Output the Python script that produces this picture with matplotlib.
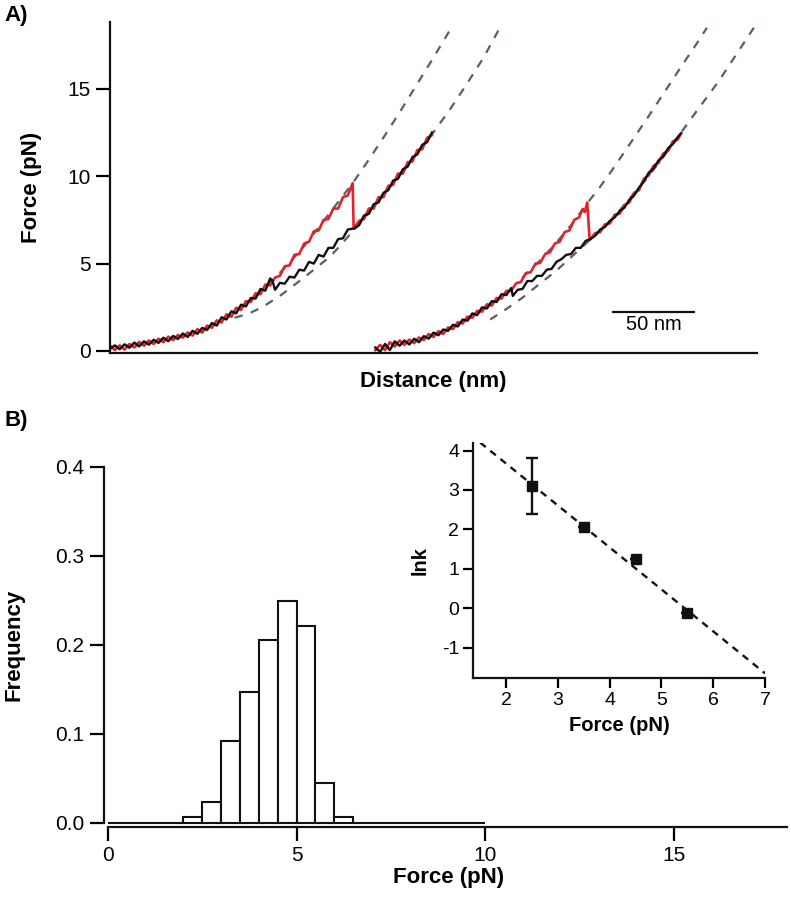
#!/usr/bin/env python3
"""
Force-extension traces (A) and rupture force histogram with lnk inset (B).
"""

import numpy as np
import matplotlib
matplotlib.use("Agg")
import matplotlib.pyplot as plt

plt.rcParams['font.family'] = ['Liberation Sans', 'DejaVu Sans']
plt.rcParams['axes.unicode_minus'] = False

# ---- Panel A: pulling traces (distance in nm, force in pN) ----
# first molecule, stretching (red) before rupture
red1_x = [0, 3, 6, 9, 12, 15, 18, 21, 24, 27, 30, 33, 36, 39, 42, 45, 48, 51, 54, 57,
          60, 63, 66, 69, 72, 75, 78, 81, 84, 87, 90, 93, 96, 99, 102, 105, 108, 111,
          114, 117, 120, 123, 126, 129, 132, 135, 138, 141, 144, 147, 150, 150.6,
          154, 157, 160, 163, 166, 169, 172, 175, 178, 181, 184, 187, 190, 193, 196, 199]
red1_y = [0.3, 0.05, 0.32, 0.08, 0.4, 0.2, 0.52, 0.3, 0.6, 0.4, 0.7, 0.5, 0.82,
          0.62, 0.92, 0.76, 1.06, 0.88, 1.25, 1.05, 1.45, 1.33, 1.75, 1.63, 2.1, 1.95, 2.47,
          2.35, 2.85, 2.8, 3.3, 3.25, 3.8, 3.75, 4.2, 4.3, 4.85, 4.9, 5.5, 5.55, 6.15,
          6.25, 6.85, 6.9, 7.5, 7.55, 8.15, 8.15, 8.8, 8.9, 9.6, 7.0,
          7.45, 7.55, 8.15, 8.15, 8.8, 8.8, 9.45, 9.5, 10.15, 10.15, 10.8, 10.85, 11.5,
          11.55, 12.2, 12.35]
# first molecule, relaxation (black)
blk1_x = [0, 3, 6, 9, 12, 15, 18, 21, 24, 27, 30, 33, 36, 39, 42, 45, 48, 51, 54, 57,
          60, 63, 66, 69, 72, 75, 78, 81, 84, 87, 90, 93, 96, 99, 100.5, 102, 105, 108,
          111, 114, 117, 120, 123, 126, 129, 132, 135, 138, 141, 144, 147, 150, 151,
          154, 157, 160, 163, 166, 169, 172, 175, 178, 181, 184, 187, 190, 193, 196, 199]
blk1_y = [0.12, 0.32, 0.1, 0.38, 0.18, 0.48, 0.26, 0.55, 0.36, 0.64, 0.46, 0.76, 0.56, 0.86,
          0.68, 1.0, 0.8, 1.15, 0.98, 1.32, 1.2, 1.6, 1.45, 1.93, 1.8, 2.27, 2.15, 2.65,
          2.55, 3.03, 3.0, 3.55, 3.45, 4.15, 4.0, 3.5, 3.9, 3.85, 4.25, 4.2, 4.65, 4.6,
          5.1, 5.0, 5.5, 5.4, 5.9, 5.9, 6.4, 6.45, 6.95, 7.0, 7.0,
          7.2, 7.75, 7.85, 8.4, 8.5, 9.05, 9.2, 9.75, 9.85, 10.4, 10.55, 11.1, 11.25,
          11.8, 11.95, 12.5]
# second molecule
red2_x = [164, 167, 170, 173, 176, 179, 182, 185, 188, 191, 194, 197, 200, 203, 206,
          209, 212, 215, 218, 221, 224, 227, 230, 233, 236, 239, 242, 245, 248, 251,
          254, 257, 260, 263, 266, 269, 272, 275, 278, 281, 284, 287, 290, 292, 293.5,
          295, 296.5, 300, 303, 306, 309, 312, 315, 318, 321, 324, 327, 330, 333, 336,
          339, 342, 345, 348, 351, 353]
red2_y = [0.05, 0.35, 0.05, 0.5, 0.25, 0.6, 0.35, 0.65, 0.45, 0.77, 0.63, 0.97, 0.8, 1.13,
          0.97, 1.35, 1.25, 1.65, 1.57, 1.97, 1.9, 2.3, 2.25, 2.67, 2.6, 3.03, 3.0, 3.43,
          3.45, 3.87, 3.95, 4.45, 4.5, 5.0, 5.05, 5.55, 5.65, 6.15, 6.25, 6.8, 6.9, 7.5,
          7.65, 8.1, 7.95, 8.5, 6.35, 6.75, 6.8, 7.25, 7.3, 7.8, 7.85, 8.35, 8.5, 9.05,
          9.2, 9.85, 10.05, 10.6, 10.75, 11.3, 11.45, 12.0, 12.1, 12.45]
blk2_x = [164, 167, 170, 173, 176, 179, 182, 185, 188, 191, 194, 197, 200, 203, 206,
          209, 212, 215, 218, 221, 224, 227, 230, 233, 236, 239, 242, 245, 248, 249,
          252, 255, 258, 261, 264, 267, 270, 273, 276, 279, 282, 285, 288, 291, 294,
          297, 300, 303, 306, 309, 312, 315, 318, 321, 324, 327, 330, 333, 336, 339,
          342, 345, 348, 351, 353]
blk2_y = [0.2, -0.05, 0.4, 0.05, 0.55, 0.3, 0.6, 0.37, 0.7, 0.5, 0.85, 0.7, 1.05, 0.9,
          1.23, 1.15, 1.5, 1.4, 1.8, 1.73, 2.15, 2.05, 2.5, 2.43, 2.85, 2.8, 3.25, 3.2,
          3.6, 3.15, 3.5, 3.55, 4.0, 4.0, 4.3, 4.3, 4.65, 4.7, 5.1, 5.25, 5.5, 5.55,
          5.9, 5.9, 6.3, 6.4, 6.6, 6.95, 7.1, 7.45, 7.65, 8.0, 8.2, 8.65, 8.9, 9.35,
          9.7, 10.2, 10.45, 10.9, 11.15, 11.6, 11.85, 12.25, 12.45]

# worm-like chain fits (dashed): before / after unfolding for each molecule
fit1a_x = [90, 100, 110, 120, 130, 140, 150, 160, 170, 180, 190, 200, 211]
fit1a_y = [3.1, 4.0, 4.95, 6.0, 7.2, 8.4, 9.6, 10.95, 12.35, 13.8, 15.3, 16.8, 18.5]
fit1b_x = [77, 86, 94, 105, 115, 126, 136, 143, 150, 158, 165, 173, 181, 190, 199, 210,
           220, 231, 241]
fit1b_y = [1.9, 2.15, 2.5, 3.15, 3.85, 4.65, 5.4, 6.1, 6.85, 7.7, 8.5, 9.4, 10.3, 11.35,
           12.4, 13.8, 15.2, 16.8, 18.5]
fit2a_x = [255, 265, 275, 285, 295, 303, 310, 321, 332, 343, 354, 362, 369]
fit2a_y = [4.2, 5.1, 6.1, 7.2, 8.45, 9.4, 10.3, 11.8, 13.3, 14.85, 16.4, 17.5, 18.5]
fit2b_x = [235, 245, 255, 265, 276, 286, 296, 305, 311, 321, 332, 342, 353, 364, 376,
           387, 398]
fit2b_y = [1.8, 2.4, 3.05, 3.8, 4.6, 5.45, 6.3, 7.05, 7.6, 8.7, 9.9, 11.1, 12.5, 13.9,
           15.4, 16.95, 18.5]

scale_bar_nm = 50

# ---- Panel B: rupture force histogram ----
bin_left = np.arange(0, 10, 0.5)
frequency = [0, 0, 0, 0, 0.006, 0.023, 0.092, 0.147, 0.206, 0.249, 0.221, 0.045, 0.006,
             0, 0, 0, 0, 0, 0, 0]

# inset: lnk versus force
inset_force = [2.5, 3.5, 4.5, 5.5]
inset_lnk = [3.1, 2.05, 1.25, -0.12]
inset_err = [0.7, 0.0, 0.0, 0.0]
fit_force = [1.5, 7.0]
fit_lnk = [4.2, -1.65]

RED = '#e3232c'
BLACK = '#111111'
FITCOL = '#52636a'


def style_axes(ax, lw=1.6):
    for side in ['top', 'right']:
        ax.spines[side].set_visible(False)
    for side in ['left', 'bottom']:
        ax.spines[side].set_linewidth(lw)
        ax.spines[side].set_color(BLACK)


def plot_traces(fig):
    ax = fig.add_axes([0.1391, 0.6068, 0.8180, 0.3687])
    style_axes(ax)
    dash = dict(color=FITCOL, lw=1.6, dashes=(3.8, 3.8), zorder=1)
    for fx, fy in [(fit1a_x, fit1a_y), (fit1b_x, fit1b_y), (fit2a_x, fit2a_y), (fit2b_x, fit2b_y)]:
        ax.plot(fx, fy, **dash)
    ax.plot(red1_x, red1_y, color=RED, lw=1.9, zorder=2)
    ax.plot(red2_x, red2_y, color=RED, lw=1.9, zorder=2)
    ax.plot(blk1_x, blk1_y, color=BLACK, lw=1.7, zorder=3)
    ax.plot(blk2_x, blk2_y, color=BLACK, lw=1.7, zorder=3)

    # 50 nm scale bar
    ax.plot([311, 311 + scale_bar_nm], [2.25, 2.25], color=BLACK, lw=1.6, clip_on=False)
    ax.text(311 + scale_bar_nm / 2, 2.05, '50 nm', ha='center', va='top', fontsize=14.5)

    ax.set_xlim(0, 400)
    ax.set_ylim(-0.1, 18.83)
    ax.set_xticks([])
    ax.set_yticks([0, 5, 10, 15])
    ax.tick_params(axis='y', direction='out', length=10, width=1.6, labelsize=15, pad=4)
    ax.set_ylabel('Force (pN)', fontsize=16, fontweight='bold')
    ax.yaxis.set_label_coords(-0.105, 0.5)
    ax.set_xlabel('Distance (nm)', fontsize=16, fontweight='bold')
    ax.xaxis.set_label_coords(0.5, -0.055)


def plot_histogram(fig):
    ax = fig.add_axes([0.1362, 0.0828, 0.8593, 0.3966])
    style_axes(ax)
    ax.spines['left'].set_position(('outward', 3))
    ax.spines['bottom'].set_position(('outward', 3))
    ax.bar(bin_left, frequency, width=0.5, align='edge', facecolor='white',
           edgecolor=BLACK, linewidth=1.5, clip_on=False)
    ax.set_xlim(0, 18)
    ax.set_ylim(0, 0.4)
    ax.set_xticks([0, 5, 10, 15])
    ax.set_yticks([0.0, 0.1, 0.2, 0.3, 0.4])
    ax.set_yticklabels(['0.0', '0.1', '0.2', '0.3', '0.4'])
    ax.tick_params(direction='out', length=10, width=1.6, labelsize=15, pad=4)
    ax.set_ylabel('Frequency', fontsize=16, fontweight='bold')
    ax.yaxis.set_label_coords(-0.123, 0.5)
    ax.set_xlabel('Force (pN)', fontsize=16, fontweight='bold')
    ax.xaxis.set_label_coords(0.502, -0.125)


def plot_inset(fig):
    ax = fig.add_axes([0.598, 0.2441, 0.3692, 0.2620])
    style_axes(ax, lw=1.6)
    ax.plot(fit_force, fit_lnk, color=BLACK, lw=1.7, dashes=(3.0, 2.5), zorder=1)
    ax.errorbar(inset_force, inset_lnk, yerr=inset_err, fmt='s', color=BLACK,
                markersize=6.5, elinewidth=1.7, capsize=4.5, capthick=1.7, zorder=2)
    ax.set_xlim(1.36, 7.0)
    ax.set_ylim(-1.77, 4.19)
    ax.set_xticks([2, 3, 4, 5, 6, 7])
    ax.set_yticks([-1, 0, 1, 2, 3, 4])
    ax.tick_params(direction='out', length=7, width=1.6, labelsize=14, pad=3)
    ax.set_ylabel('lnk', fontsize=14.5, fontweight='bold')
    ax.yaxis.set_label_coords(-0.15, 0.5)
    ax.set_xlabel('Force (pN)', fontsize=14.5, fontweight='bold')
    ax.xaxis.set_label_coords(0.5, -0.16)


def main():
    fig = plt.figure(figsize=(7.91, 8.97), dpi=100)
    plot_traces(fig)
    plot_histogram(fig)
    plot_inset(fig)
    fig.text(0.006, 0.983, 'A)', fontsize=16, fontweight='bold', va='center')
    fig.text(0.006, 0.531, 'B)', fontsize=16, fontweight='bold', va='center')
    fig.savefig('out.png', dpi=100)
    plt.close(fig)


if __name__ == "__main__":
    main()
